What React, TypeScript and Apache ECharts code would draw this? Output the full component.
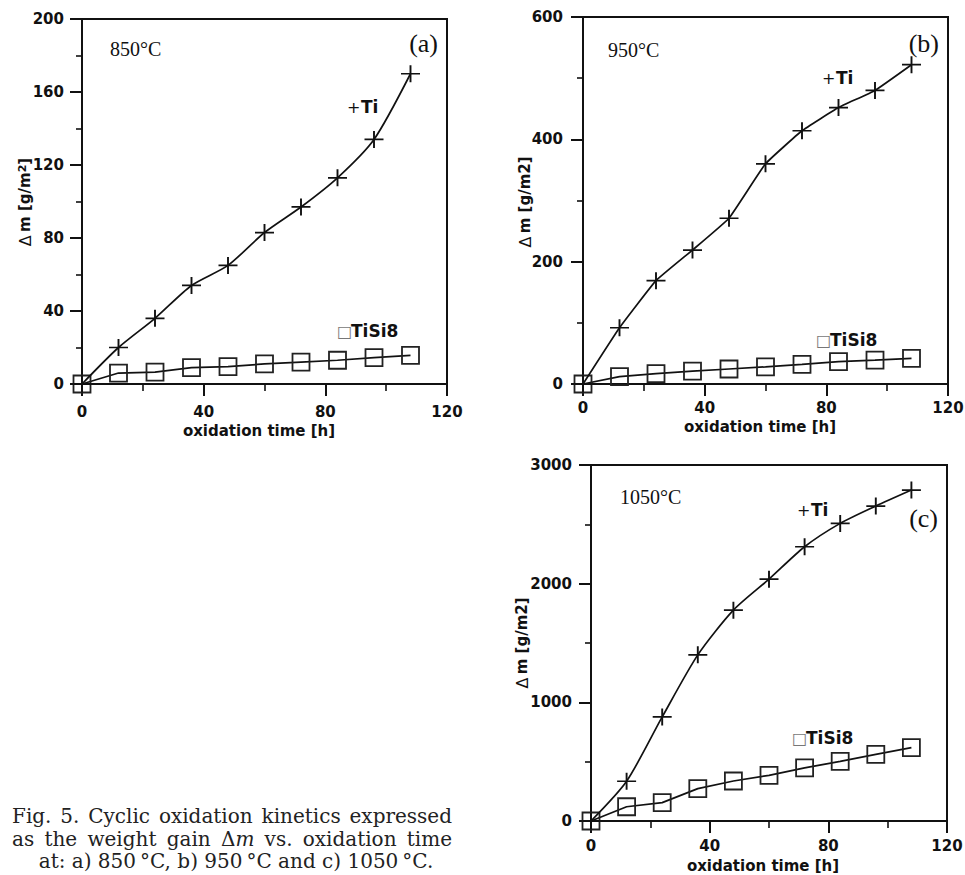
import React, { useEffect, useRef } from 'react';
import * as echarts from 'echarts';

// ---------- data ----------
const times = [0, 12, 24, 36, 48, 60, 72, 84, 96, 108];

const ti850 = [0, 20, 36, 54, 65, 83, 97, 113, 134, 170];
const tisi850 = [0, 6, 6.5, 9, 9.5, 11, 12, 13, 14.4, 15.7];

const ti950 = [0, 92, 169, 219, 271, 360, 414, 452, 480, 522];
const tisi950 = [0, 12, 17, 21, 24.5, 28, 32, 36.5, 39, 42];

const ti1050 = [0, 335, 877, 1400, 1777, 2038, 2311, 2508, 2654, 2789];
const tisi1050 = [0, 120, 155, 273, 337, 385, 447, 503, 562, 618];

const xMax = 120;
const xInterval = 40;
const yMaxes = [200, 600, 3000];
const yIntervals = [40, 200, 1000];
const temps = ['850°C', '950°C', '1050°C'];
const tags = ['(a)', '(b)', '(c)'];
const xTitle = 'oxidation time [h]';
const tiName = 'Ti';
const tisiName = 'TiSi8';

const caption1 = ['Fig.', '5.', 'Cyclic', 'oxidation', 'kinetics', 'expressed'];
const caption2 = ['as', 'the', 'weight', 'gain', 'Δm', 'vs.', 'oxidation', 'time'];
const caption3 = 'at: a) 850\u2009°C, b) 950\u2009°C and c) 1050\u2009°C.';

// ---------- layout ----------
const grids = [
  { left: 82, top: 19, width: 365, height: 365 },
  { left: 583, top: 17, width: 365, height: 367 },
  { left: 591, top: 465, width: 356, height: 356 },
];
const xLabelMargins = [21, 17, 18];
const yLabelMargins = [18, 20, 19];

const INK = '#111';
const SANS = '"DejaVu Sans", sans-serif';
const SERIF = '"Liberation Serif", "Times New Roman", serif';
const CAP_FAMILY = '"DejaVu Serif", serif';
const CAP_LEFT = 12;
const CAP_RIGHT = 452;

const plusPath = 'path://M0,8L16,8M8,0L8,16';

function buildCaption(): any[] {
  const canvas = document.createElement('canvas');
  const ctx = canvas.getContext('2d') as CanvasRenderingContext2D;
  let size = 20;
  const f = (st: string) => `${st} ${size}px ${CAP_FAMILY}`;
  const widthOf = (w: string) => {
    if (w === 'Δm') {
      ctx.font = f('normal');
      const a = ctx.measureText('Δ').width;
      ctx.font = f('italic');
      return a + ctx.measureText('m').width;
    }
    ctx.font = f('normal');
    return ctx.measureText(w).width;
  };
  const naturalWidth = (words: string[]) => {
    ctx.font = f('normal');
    const sp = ctx.measureText(' ').width;
    return words.map(widthOf).reduce((a, b) => a + b, 0) + sp * (words.length - 1);
  };
  const span = CAP_RIGHT - CAP_LEFT;
  while (size > 12 && Math.max(naturalWidth(caption1), naturalWidth(caption2)) > span) {
    size -= 0.5;
  }
  const out: any[] = [];
  const lines = [
    { words: caption1, y: 816 },
    { words: caption2, y: 839 },
  ];
  for (const ln of lines) {
    const widths = ln.words.map(widthOf);
    const total = widths.reduce((a, b) => a + b, 0);
    const gap = (span - total) / (ln.words.length - 1);
    let x = CAP_LEFT;
    ln.words.forEach((w, i) => {
      const isDelta = w === 'Δm';
      out.push({
        type: 'text',
        x,
        y: ln.y,
        style: {
          text: isDelta ? '{r|Δ}{i|m}' : w,
          fontFamily: CAP_FAMILY,
          fontSize: size,
          fill: '#222',
          align: 'left',
          textAlign: 'left',
          verticalAlign: 'middle',
          textVerticalAlign: 'middle',
          rich: isDelta
            ? {
                r: { fontFamily: CAP_FAMILY, fontSize: size, fill: '#222' },
                i: { fontFamily: CAP_FAMILY, fontSize: size, fontStyle: 'italic', fill: '#222' },
              }
            : undefined,
        },
      });
      x += widths[i] + gap;
    });
  }
  out.push({
    type: 'text',
    x: 236,
    y: 861,
    style: {
      text: caption3,
      fontFamily: CAP_FAMILY,
      fontSize: size,
      fill: '#222',
      align: 'center',
      textAlign: 'center',
      verticalAlign: 'middle',
      textVerticalAlign: 'middle',
    },
  });
  return out;
}

function txt(x: number, y: number, text: string, extra: any, align = 'left', rotation = 0): any {
  return {
    type: 'text',
    x,
    y,
    rotation,
    style: {
      text,
      fill: INK,
      align,
      textAlign: align,
      verticalAlign: 'middle',
      textVerticalAlign: 'middle',
      ...extra,
    },
  };
}

const plusStyle = { fontFamily: SANS, fontSize: 16, fontWeight: 'normal' };
const boldStyle = { fontFamily: SANS, fontSize: 17, fontWeight: 'bold' };
const boxStyle = { fontFamily: SANS, fontSize: 16, fontWeight: 'normal', fill: '#777' };
const yTitleRich = {
  d: { fontFamily: SANS, fontSize: 16, fontWeight: 'normal', fill: INK },
  b: { fontFamily: SANS, fontSize: 15, fontWeight: 'bold', fill: INK },
  sup: { fontFamily: SANS, fontSize: 11, fontWeight: 'bold', fill: INK, verticalAlign: 'top' },
};
const xTitleStyle = { fontFamily: SANS, fontWeight: 'bold', fontSize: 15, lineHeight: 14 };

function seriesLabels(plusX: number, tiY: number, boxX: number, tisiY: number): any[] {
  return [
    txt(plusX - 2, tiY, '+', plusStyle),
    txt(plusX + 12, tiY, tiName, boldStyle),
    txt(boxX, tisiY, '□', boxStyle),
    txt(boxX + 14, tisiY, tisiName, boldStyle),
  ];
}

export default function App() {
  const ref = useRef<HTMLDivElement>(null);

  useEffect(() => {
    if (!ref.current) return;
    const chart = echarts.init(ref.current, undefined, { renderer: 'svg' });

    const tiSets = [ti850, ti950, ti1050];
    const tisiSets = [tisi850, tisi950, tisi1050];

    const labelCommon = {
      color: INK,
      fontFamily: SANS,
      fontWeight: 'bold',
      fontSize: 15,
      lineHeight: 14,
      formatter: (v: number) => String(v),
    };

    const xAxes = grids.map((_, i) => ({
      type: 'value',
      gridIndex: i,
      min: 0,
      max: xMax,
      interval: xInterval,
      axisLine: { show: true, onZero: false, lineStyle: { color: INK, width: 2 } },
      axisTick: { show: true, inside: false, length: 12, lineStyle: { color: INK, width: 2 } },
      minorTick: { show: true, splitNumber: 2, length: 7, lineStyle: { color: INK, width: 1.6 } },
      splitLine: { show: false },
      minorSplitLine: { show: false },
      axisLabel: { ...labelCommon, margin: xLabelMargins[i] },
    }));

    const yAxes = grids.map((_, i) => ({
      type: 'value',
      gridIndex: i,
      min: 0,
      max: yMaxes[i],
      interval: yIntervals[i],
      axisLine: { show: true, onZero: false, lineStyle: { color: INK, width: 2 } },
      axisTick: { show: true, inside: false, length: 12, lineStyle: { color: INK, width: 2 } },
      minorTick: { show: true, splitNumber: 2, length: 6, lineStyle: { color: INK, width: 1.6 } },
      splitLine: { show: false },
      minorSplitLine: { show: false },
      axisLabel: { ...labelCommon, margin: yLabelMargins[i] },
    }));

    const series: any[] = [];
    grids.forEach((_, i) => {
      series.push({
        type: 'line',
        name: tisiName,
        xAxisIndex: i,
        yAxisIndex: i,
        data: times.map((t, k) => [t, tisiSets[i][k]]),
        symbol: 'rect',
        symbolSize: 17,
        showSymbol: true,
        clip: false,
        lineStyle: { color: INK, width: 1.7 },
        itemStyle: { color: 'rgba(0,0,0,0)', borderColor: '#222', borderWidth: 1.8 },
        z: 3,
      });
      series.push({
        type: 'line',
        name: tiName,
        xAxisIndex: i,
        yAxisIndex: i,
        data: times.map((t, k) => [t, tiSets[i][k]]),
        symbol: plusPath,
        symbolSize: [19, 17],
        showSymbol: true,
        clip: false,
        smooth: i === 1 ? 0.1 : 0.25,
        lineStyle: { color: INK, width: 1.7 },
        itemStyle: { color: INK, borderColor: INK, borderWidth: 1.8 },
        z: 4,
      });
    });

    const graphics: any[] = [
      // panel (a)
      txt(110, 49, temps[0], { fontFamily: SERIF, fontSize: 20 }),
      txt(438, 43, tags[0], { fontFamily: SERIF, fontSize: 26 }, 'right'),
      ...seriesLabels(349, 107, 337, 331),
      txt(25, 202, '{d|Δ} {b|m [g/m}{sup|2}{b|]}', { rich: yTitleRich }, 'center', Math.PI / 2),
      txt(259, 431, xTitle, xTitleStyle, 'center'),
      // panel (b)
      txt(608, 50, temps[1], { fontFamily: SERIF, fontSize: 20 }),
      txt(939, 43, tags[1], { fontFamily: SERIF, fontSize: 26 }, 'right'),
      ...seriesLabels(824, 78, 816, 340),
      txt(525, 202, '{d|Δ} {b|m [g/m2]}', { rich: yTitleRich }, 'center', Math.PI / 2),
      txt(760, 427, xTitle, xTitleStyle, 'center'),
      // panel (c)
      txt(620, 497, temps[2], { fontFamily: SERIF, fontSize: 20 }),
      txt(938, 518, tags[2], { fontFamily: SERIF, fontSize: 26 }, 'right'),
      ...seriesLabels(799, 510, 792, 738),
      txt(522, 643, '{d|Δ} {b|m [g/m2]}', { rich: yTitleRich }, 'center', Math.PI / 2),
      txt(763, 866, xTitle, xTitleStyle, 'center'),
      ...buildCaption(),
    ];

    chart.setOption({
      animation: false,
      backgroundColor: '#fff',
      grid: grids.map((g) => ({
        ...g,
        show: true,
        borderColor: INK,
        borderWidth: 2,
        backgroundColor: 'transparent',
        containLabel: false,
        outerBoundsMode: 'none',
      })),
      xAxis: xAxes,
      yAxis: yAxes,
      series,
      graphic: { elements: graphics },
    });

    return () => {
      chart.dispose();
    };
  }, []);

  return (
    <div
      ref={ref}
      style={{ position: 'fixed', left: 0, top: 0, width: 965, height: 875, background: '#fff' }}
    />
  );
}
